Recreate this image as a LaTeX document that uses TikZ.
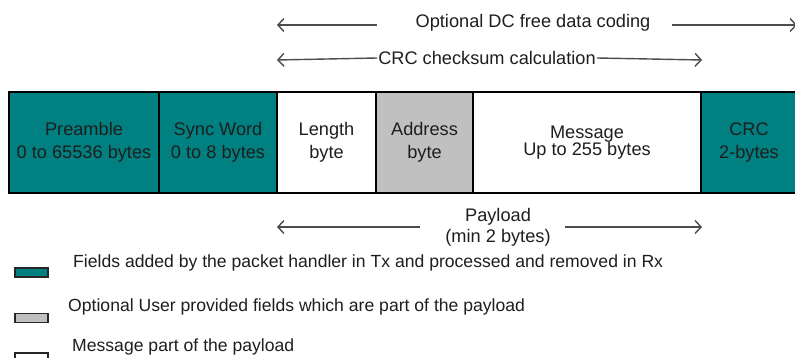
\documentclass[tikz,border=0pt]{standalone}
\usepackage{fontspec}
\setmainfont{Liberation Sans}
\usetikzlibrary{arrows.meta}
\definecolor{pkteal}{HTML}{008080}
\definecolor{pkgray}{HTML}{C0C0C0}
\definecolor{pktext}{HTML}{1E1E1E}
\begin{document}
\begin{tikzpicture}[x=1pt,y=-1pt,>={Straight Barb[length=6pt,width=13pt]},
  fld/.style={rectangle,draw=black,line width=1.3pt,align=center,inner sep=0pt,minimum height=101pt,text=pktext,font=\fontsize{18.2}{23}\selectfont},
  hw/.style={fld,fill=pkteal},
  us/.style={fld,fill=pkgray},
  ms/.style={fld,fill=white},
  lb/.style={text=pktext,align=center,inner sep=1pt,font=\fontsize{18.2}{21}\selectfont},
  lg/.style={text=pktext,anchor=west,inner sep=0pt,font=\fontsize{17.6}{21}\selectfont},
  sw/.style={rectangle,draw=black!85,line width=1.2pt,minimum width=33pt,minimum height=9pt,inner sep=0pt},
  ar/.style={->,line width=1.4pt,draw=black!70}]
  \useasboundingbox (0,0) rectangle (795,358);
  % packet fields
  \node[hw,minimum width=150pt] (pre)  at (84,142.5)    {Preamble\\0 to 65536 bytes};
  \node[hw,minimum width=118pt] (sync) at (218,142.5)   {Sync Word\\0 to 8 bytes};
  \node[ms,minimum width=99pt]  (len)  at (326.5,142.5) {Length\\byte};
  \node[us,minimum width=97pt]  (addr) at (424.5,142.5) {Address\\byte};
  \node[ms,minimum width=228pt,font=\fontsize{18.2}{17}\selectfont] (msg) at (587,142.5) {Message\\Up to 255 bytes};
  \node[hw,minimum width=96pt]  (crc)  at (749,142.5)   {CRC\\2-bytes};
  % span arrows
  \node[lb] (dc) at (533,23) {Optional DC free data coding};
  \coordinate (dcL) at (277,25); \coordinate (dcA) at (377,25);
  \coordinate (dcB) at (672,25); \coordinate (dcR) at (797,25);
  \draw[ar] (dcA) -- (dcL); \draw[ar] (dcB) -- (dcR);
  \node[lb] (cs) at (487,58) {CRC checksum calculation};
  \coordinate (csL) at (277,60); \coordinate (csR) at (702,60);
  \draw[ar] (cs.west) -- (csL); \draw[ar] (cs.east) -- (csR);
  \node[lb] (pl) at (498,227) {Payload\\(min 2 bytes)};
  \coordinate (plL) at (277,227); \coordinate (plA) at (420,227);
  \coordinate (plB) at (565,227); \coordinate (plR) at (702,227);
  \draw[ar] (plA) -- (plL); \draw[ar] (plB) -- (plR);
  % legend
  \node[sw,fill=pkteal] (sw1) at (31.5,272.5) {};
  \node[sw,fill=pkgray] (sw2) at (31.5,318)   {};
  \node[sw,fill=white]  (sw3) at (31.5,357.5) {};
  \node[lg] (lg1) at (73,263) {Fields added by the packet handler in Tx and processed and removed in Rx};
  \node[lg] (lg2) at (68,307) {Optional User provided fields which are part of the payload};
  \node[lg] (lg3) at (72,347) {Message part of the payload};
\end{tikzpicture}
\end{document}
